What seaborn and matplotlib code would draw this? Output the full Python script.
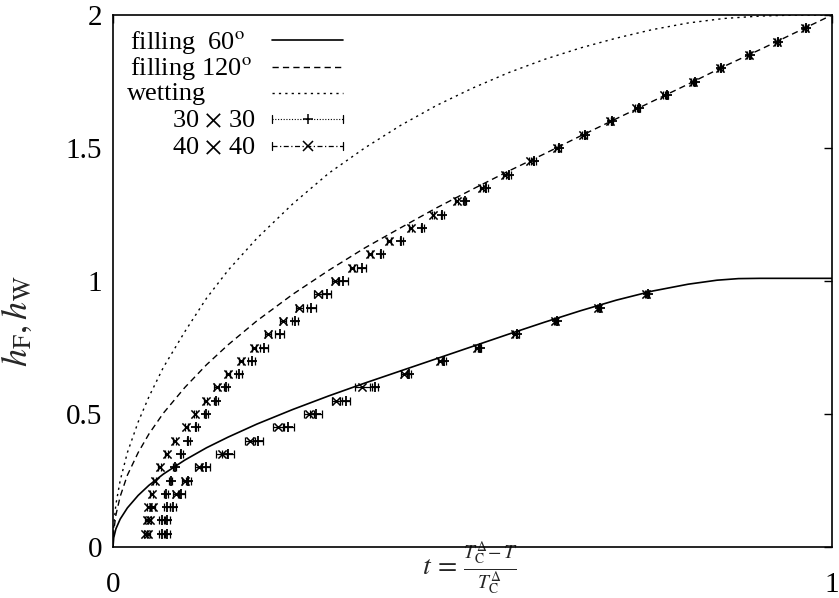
import numpy as np
import pandas as pd
import matplotlib
matplotlib.use("Agg")
import matplotlib.pyplot as plt
import seaborn as sns

# ---------------- data ----------------
# theory curves (t, h)
t_fill60 = [0, 0.001, 0.004, 0.01, 0.02, 0.035, 0.05, 0.07, 0.1, 0.13, 0.16, 0.2, 0.25,
            0.3, 0.35, 0.4, 0.45, 0.5, 0.55, 0.6, 0.65, 0.7, 0.75, 0.8, 0.84, 0.87, 0.9, 1.0]
h_fill60 = [0, 0.035, 0.068, 0.105, 0.147, 0.194, 0.232, 0.274, 0.327, 0.373, 0.413,
            0.462, 0.517, 0.568, 0.616, 0.662, 0.708, 0.754, 0.80, 0.845, 0.888, 0.928,
            0.962, 0.988, 1.003, 1.009, 1.01, 1.01]

t_fill120 = [0, 0.001, 0.004, 0.01, 0.02, 0.035, 0.05, 0.07, 0.1, 0.13, 0.16, 0.2, 0.25,
             0.3, 0.35, 0.4, 0.45, 0.5, 0.55, 0.6, 0.65, 0.7, 0.75, 0.8, 0.85, 0.9, 0.95,
             1.0]
h_fill120 = [0, 0.06, 0.12, 0.19, 0.27, 0.355, 0.425, 0.503, 0.60, 0.685, 0.76, 0.85,
             0.95, 1.04, 1.124, 1.20, 1.275, 1.345, 1.413, 1.478, 1.545, 1.61, 1.675,
             1.74, 1.807, 1.87, 1.935, 2.0]

t_wet = [0, 0.001, 0.004, 0.01, 0.02, 0.035, 0.05, 0.07, 0.1, 0.13, 0.16, 0.2, 0.25, 0.3,
         0.35, 0.4, 0.45, 0.5, 0.55, 0.6, 0.65, 0.7, 0.75, 0.8, 0.85, 0.9, 0.95, 1.0]
h_wet = [0, 0.08, 0.16, 0.25, 0.355, 0.47, 0.565, 0.675, 0.81, 0.935, 1.04, 1.16, 1.29,
         1.405, 1.50, 1.585, 1.66, 1.725, 1.783, 1.833, 1.876, 1.913, 1.945, 1.97, 1.987,
         1.996, 2.0, 2.0]

# simulation data, 120 degree branch
h_up = [0.05, 0.10, 0.15, 0.20, 0.25, 0.30, 0.35, 0.40, 0.45, 0.50, 0.55, 0.60, 0.65,
        0.70, 0.75, 0.80, 0.85, 0.90, 0.95, 1.00, 1.05, 1.10, 1.15, 1.20, 1.25, 1.30,
        1.35, 1.40, 1.45, 1.50, 1.55, 1.60, 1.65, 1.70, 1.75, 1.80, 1.85, 1.90, 1.95]
t_up_40 = [0.045, 0.047, 0.049, 0.054, 0.058, 0.065, 0.075, 0.086, 0.102, 0.114, 0.129,
           0.144, 0.160, 0.178, 0.196, 0.216, 0.236, 0.259, 0.285, 0.309, 0.332, 0.357,
           0.384, 0.414, 0.445, 0.478, 0.513, 0.545, 0.580, 0.617, 0.654, 0.691, 0.728,
           0.767, 0.806, 0.844, 0.884, 0.923, 0.962]
e_up_40 = [0.002, 0.002, 0.002, 0.002, 0.002, 0.002, 0.002, 0.002, 0.002, 0.002, 0.002,
           0.003, 0.003, 0.003, 0.003, 0.004, 0.004, 0.005, 0.005, 0.005, 0.003, 0.003,
           0.003, 0.002, 0.002, 0.002, 0.002, 0.002, 0.002, 0.002, 0.002, 0.002, 0.002,
           0.002, 0.002, 0.002, 0.002, 0.002, 0.002]
t_up_30 = [0.068, 0.068, 0.075, 0.074, 0.080, 0.086, 0.095, 0.105, 0.116, 0.129, 0.143,
           0.157, 0.175, 0.193, 0.210, 0.232, 0.253, 0.276, 0.297, 0.320, 0.346, 0.373,
           0.401, 0.430, 0.458, 0.489, 0.519, 0.551, 0.586, 0.621, 0.657, 0.694, 0.731,
           0.770, 0.809, 0.846, 0.886, 0.925, 0.964]
e_up_30 = [0.004, 0.004, 0.004, 0.003, 0.002, 0.002, 0.002, 0.002, 0.002, 0.003, 0.003,
           0.003, 0.004, 0.005, 0.006, 0.006, 0.004, 0.006, 0.006, 0.007, 0.006, 0.002,
           0.002, 0.002, 0.002, 0.002, 0.002, 0.002, 0.002, 0.002, 0.002, 0.002, 0.002,
           0.002, 0.002, 0.002, 0.002, 0.002, 0.002]

# simulation data, 60 degree branch
h_lo = [0.05, 0.10, 0.15, 0.20, 0.25, 0.30, 0.35, 0.40, 0.45, 0.50, 0.55, 0.60, 0.65,
        0.70, 0.75, 0.80, 0.85, 0.90, 0.95]
t_lo_40 = [0.049, 0.051, 0.056, 0.088, 0.100, 0.119, 0.151, 0.190, 0.230, 0.272, 0.310,
           0.347, 0.405, 0.455, 0.506, 0.559, 0.615, 0.675, 0.742]
e_lo_40 = [0.002, 0.002, 0.003, 0.004, 0.004, 0.005, 0.008, 0.007, 0.008, 0.007, 0.006,
           0.010, 0.004, 0.003, 0.002, 0.002, 0.002, 0.002, 0.002]
t_lo_30 = [0.075, 0.075, 0.083, 0.095, 0.105, 0.129, 0.160, 0.202, 0.244, 0.282, 0.324,
           0.364, 0.412, 0.460, 0.510, 0.562, 0.617, 0.677, 0.744]
e_lo_30 = [0.004, 0.004, 0.004, 0.005, 0.004, 0.006, 0.008, 0.007, 0.008, 0.008, 0.006,
           0.004, 0.003, 0.003, 0.002, 0.002, 0.002, 0.002, 0.002]

y_ticks = [0, 0.5, 1, 1.5, 2]
y_ticklabels = ["0", "0.5", "1", "1.5", "2"]
x_ticks = [0, 1]
x_ticklabels = ["0", "1"]

legend_labels = ["filling  60$^{\\rm o}$", "filling 120$^{\\rm o}$", "wetting",
                 "30 $\\times$ 30", "40 $\\times$ 40"]

# ---------------- style ----------------
sns.set_theme(style="white")
plt.rcParams["font.family"] = ["Liberation Serif", "DejaVu Serif"]
plt.rcParams["mathtext.fontset"] = "stix"

W, H = 839, 598
fig = plt.figure(figsize=(W / 100, H / 100), dpi=100)
ax = fig.add_axes([113 / W, 1 - 547 / H, 719 / W, 532 / H])

# theory curves
sns.lineplot(x=t_fill60, y=h_fill60, ax=ax, color="black", lw=1.2, sort=False,
             estimator=None)
sns.lineplot(x=t_fill120, y=h_fill120, ax=ax, color="black", lw=1.0, sort=False,
             estimator=None, linestyle=(0, (4.5, 3)))
sns.lineplot(x=t_wet, y=h_wet, ax=ax, color="black", lw=1.0, sort=False,
             estimator=None, linestyle=(0, (1.6, 3)))

# simulation points with horizontal error bars
for t, e, h in [(t_up_30, e_up_30, h_up), (t_lo_30, e_lo_30, h_lo)]:
    ax.errorbar(t, h, xerr=e, fmt="none", ecolor="black", elinewidth=0.9,
                capsize=3, capthick=0.9)
    sns.scatterplot(x=t, y=h, ax=ax, marker="+", s=45, color="black", linewidth=1.3)
for t, e, h in [(t_up_40, e_up_40, h_up), (t_lo_40, e_lo_40, h_lo)]:
    ax.errorbar(t, h, xerr=e, fmt="none", ecolor="black", elinewidth=0.9,
                capsize=3, capthick=0.9)
    sns.scatterplot(x=t, y=h, ax=ax, marker="x", s=35, color="black", linewidth=1.1)

ax.set_xlim(0, 1)
ax.set_ylim(0, 2)
ax.set_xticks(x_ticks)
ax.set_xticklabels(x_ticklabels)
ax.set_yticks(y_ticks)
ax.set_yticklabels(y_ticklabels)
ax.tick_params(axis="both", direction="in", length=6, width=1.0, labelsize=21,
               colors="black")
ax.tick_params(axis="y", right=True, pad=8)
ax.tick_params(axis="x", top=True, pad=18)
for sp in ax.spines.values():
    sp.set_color("black")
    sp.set_linewidth(1.2)

ax.set_xlabel(r"$t\,=\,\frac{T_{\rm C}^{\Delta}\!-T}{T_{\rm C}^{\Delta}}$", fontsize=20)
ax.xaxis.set_label_coords(0.497, 0.012)
ax.set_ylabel(r"$h_{\rm F}, h_{\rm W}$", fontsize=26)
ax.yaxis.set_label_coords(-0.108, 0.425)

# key (top-left, labels left, samples right)
def fx(px):
    return px / W

def fy(py):
    return 1 - py / H

rows = [40, 66.5, 92.5, 119, 146]
text_x = [130, 130, 127, 172, 172]
for lab, ry, tx in zip(legend_labels, rows, text_x):
    fig.text(fx(tx), fy(ry + 2), lab, fontsize=19, ha="left", va="center",
             color="black")
x0, x1, xm = fx(272), fx(343), fx(307.5)
fig.add_artist(plt.Line2D([x0, x1], [fy(rows[0])] * 2, color="black", lw=1.2))
fig.add_artist(plt.Line2D([x0, x1], [fy(rows[1])] * 2, color="black", lw=1.0,
                          linestyle=(0, (4.5, 3))))
fig.add_artist(plt.Line2D([x0, x1], [fy(rows[2])] * 2, color="black", lw=1.0,
                          linestyle=(0, (1.6, 3))))
fig.add_artist(plt.Line2D([x0, x1], [fy(rows[3])] * 2, color="black", lw=0.8,
                          linestyle=(0, (1, 1.5))))
fig.add_artist(plt.Line2D([x0, x1], [fy(rows[4])] * 2, color="black", lw=0.9,
                          linestyle=(0, (4, 2, 1, 2))))
for r, mk in [(rows[3], "+"), (rows[4], "x")]:
    for xe in (x0, x1):
        fig.add_artist(plt.Line2D([xe, xe], [fy(r - 4), fy(r + 4)], color="black",
                                  lw=0.9))
    fig.add_artist(plt.Line2D([xm], [fy(r)], marker=mk, color="black",
                              markersize=7, lw=0, markeredgewidth=1.1))

fig.savefig("out.png", dpi=100)
